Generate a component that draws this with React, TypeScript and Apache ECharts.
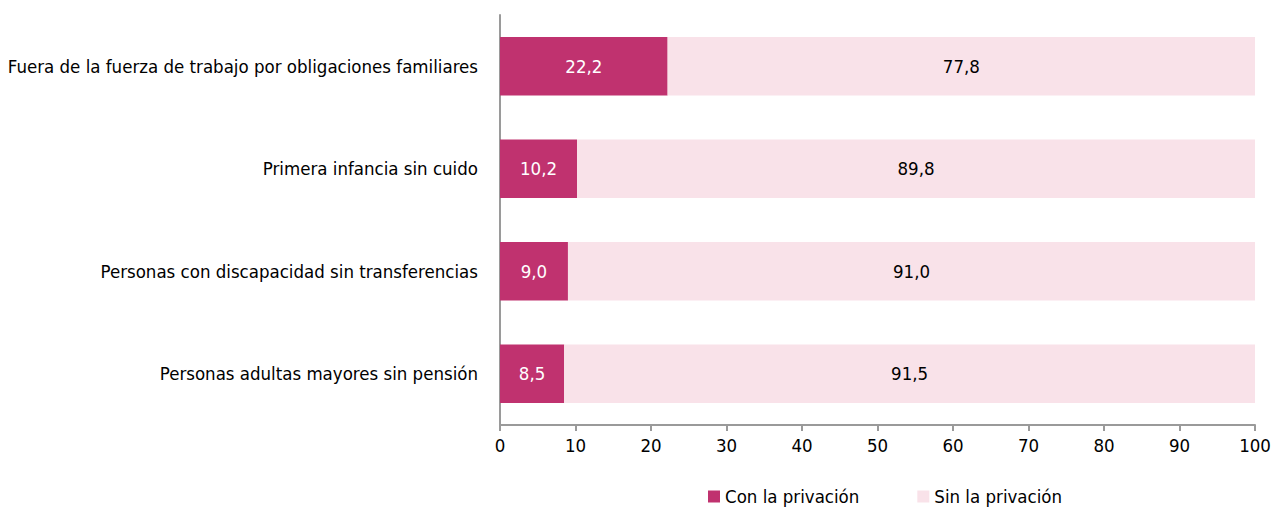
import React, { useEffect, useRef } from "react";
import * as echarts from "echarts";

const categories = [
  "Fuera de la fuerza de trabajo por obligaciones familiares",
  "Primera infancia sin cuido",
  "Personas con discapacidad sin transferencias",
  "Personas adultas mayores sin pensión",
];
const conPrivacion = [22.2, 10.2, 9.0, 8.5];
const sinPrivacion = [77.8, 89.8, 91.0, 91.5];
const seriesNames = ["Con la privación", "Sin la privación"];

const FONT = "'Liberation Sans Narrow', 'DejaVu Sans Condensed', 'Roboto Condensed', sans-serif";
const FS = 18.5;
const fmt = (v: number) => v.toFixed(1).replace(".", ",");

export default function App() {
  const ref = useRef<HTMLDivElement>(null);
  useEffect(() => {
    if (!ref.current) return;
    const chart = echarts.init(ref.current, null, { renderer: "svg" });
    chart.setOption({
      animation: false,
      textStyle: { fontFamily: FONT, color: "#000" },
      grid: { left: 500, right: 16, top: 15, bottom: 88, containLabel: false, outerBoundsMode: "none" },
      legend: {
        bottom: 2,
        left: 703,
        itemWidth: 12,
        itemHeight: 12,
        itemGap: 58,
        icon: "rect",
        textStyle: { fontFamily: FONT, fontSize: FS, color: "#000" },
        data: seriesNames,
      },
      xAxis: {
        type: "value",
        min: 0,
        max: 100,
        interval: 10,
        splitLine: { show: false },
        axisLine: { show: true, lineStyle: { color: "#9a9a9a", width: 2 } },
        axisTick: { show: true, length: 6, lineStyle: { color: "#9a9a9a", width: 2 } },
        axisLabel: { fontFamily: FONT, fontSize: FS, color: "#000", margin: 11 },
      },
      yAxis: {
        type: "category",
        data: categories,
        inverse: true,
        axisLine: { show: true, lineStyle: { color: "#9a9a9a", width: 2 } },
        axisTick: { show: false },
        axisLabel: { fontFamily: FONT, fontSize: FS, color: "#000", margin: 22 },
      },
      series: [
        {
          name: seriesNames[0],
          type: "bar",
          stack: "total",
          data: conPrivacion,
          barCategoryGap: "43%",
          itemStyle: { color: "#C0326F" },
          label: {
            show: true,
            position: "inside",
            color: "#fff",
            fontFamily: FONT,
            fontSize: FS,
            formatter: (p: any) => fmt(p.value),
          },
        },
        {
          name: seriesNames[1],
          type: "bar",
          stack: "total",
          data: sinPrivacion,
          barCategoryGap: "43%",
          itemStyle: { color: "#F9E2E9" },
          label: {
            show: true,
            position: "inside",
            color: "#000",
            fontFamily: FONT,
            fontSize: FS,
            formatter: (p: any) => fmt(p.value),
          },
        },
      ],
    });
    return () => chart.dispose();
  }, []);
  return <div ref={ref} style={{ width: 1271, height: 513, position: "absolute", left: 0, top: 0 }} />;
}
